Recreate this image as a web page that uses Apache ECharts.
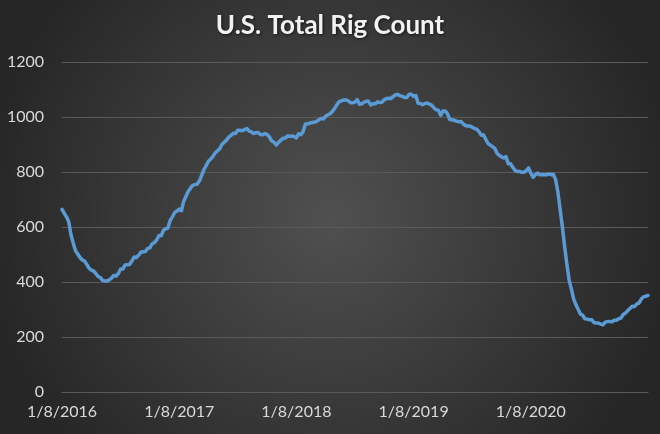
<!DOCTYPE html>
<html>
<head>
<meta charset="utf-8">
<script src="https://cdn.jsdelivr.net/npm/echarts@6/dist/echarts.min.js"></script>
<style>
html,body{margin:0;padding:0;background:#333;}
#c{width:660px;height:434px;}
</style>
</head>
<body>
<div id="c"></div>
<script>
// Weekly U.S. total rig count, 1/8/2016 .. 12/31/2020
const values2016 = [664,650,637,619,571,541,514,502,489,480,476,464,450,443,440,431,420,416,406,404,404,408,414,424,421,431,447,447,462,463,464,476,491,489,497,508,510,511,522,524,539,543,553,569,568,588,593,597,624,637,653,658];
const values2017 = [665,659,694,712,729,741,751,754,756,768,789,809,824,839,847,857,870,877,885,901,908,916,927,933,941,940,952,952,950,954,958,949,946,940,943,944,936,935,940,936,928,913,909,898,907,915,923,923,931,930,931,929];
const values2018 = [924,939,936,947,975,975,978,980,981,984,990,995,993,1003,1008,1012,1021,1032,1045,1056,1059,1062,1062,1059,1052,1052,1054,1063,1046,1048,1054,1057,1057,1044,1048,1048,1055,1053,1054,1063,1067,1068,1067,1075,1081,1082,1077,1075,1071,1071,1083,1083];
const values2019 = [1075,1078,1050,1049,1045,1049,1051,1047,1043,1034,1026,1025,1006,1022,1022,1012,991,990,988,985,983,984,975,969,967,967,963,958,956,947,934,935,919,904,898,892,886,868,861,855,851,856,830,830,817,806,802,802,799,799,805,815];
const values2020 = [796,781,790,796,790,791,790,790,793,790,792,772,728,664,602,529,465,408,374,339,318,301,284,279,266,265,263,263,253,251,251,247,244,254,256,256,255,261,261,266,269,282,287,296,304,312,310,320,323,338,346,348,351];
const tickLabels = ['1/8/2016','1/8/2017','1/8/2018','1/8/2019','1/8/2020'];
const tickEvery = 52;

const values = [].concat(values2016, values2017, values2018, values2019, values2020);
const categories = values.map((v, i) => 'w' + i);

const chart = echarts.init(document.getElementById('c'));
chart.setOption({
  backgroundColor: {
    type: 'radial', x: 0.5, y: 0.5, r: 0.8,
    colorStops: [{offset: 0, color: '#505050'}, {offset: 1, color: '#262626'}]
  },
  animation: false,
  title: {
    text: 'U.S. Total Rig Count',
    left: 'center', top: 8,
    textStyle: {color: '#f2f2f2', fontFamily: 'Lato', fontWeight: 'bold', fontSize: 26,
      textShadowColor: 'rgba(0,0,0,0.6)', textShadowBlur: 3, textShadowOffsetX: 1, textShadowOffsetY: 1}
  },
  grid: {left: 62, right: 12, top: 62, bottom: 42, containLabel: false},
  xAxis: {
    type: 'category',
    data: categories,
    boundaryGap: false,
    axisLine: {show: true, lineStyle: {color: '#5a5a5a', width: 1}},
    axisTick: {show: false},
    splitLine: {show: false},
    axisLabel: {
      color: '#d9d9d9', fontFamily: 'Lato', fontSize: 16, margin: 12,
      interval: (i) => i % tickEvery === 0 && tickLabels[i / tickEvery] !== undefined,
      formatter: (v, i) => tickLabels[i / tickEvery] || ''
    }
  },
  yAxis: {
    type: 'value', min: 0, max: 1200, interval: 200,
    axisLine: {show: false}, axisTick: {show: false},
    splitLine: {lineStyle: {color: '#5a5a5a', width: 1}},
    axisLabel: {color: '#d9d9d9', fontFamily: 'Lato', fontSize: 16, margin: 18,
      formatter: (v) => String(v)}
  },
  series: [{
    type: 'line', data: values, showSymbol: false, smooth: false,
    lineStyle: {color: '#5b9bd5', width: 3.5, cap: 'round', join: 'round'}
  }]
});
</script>
</body>
</html>
